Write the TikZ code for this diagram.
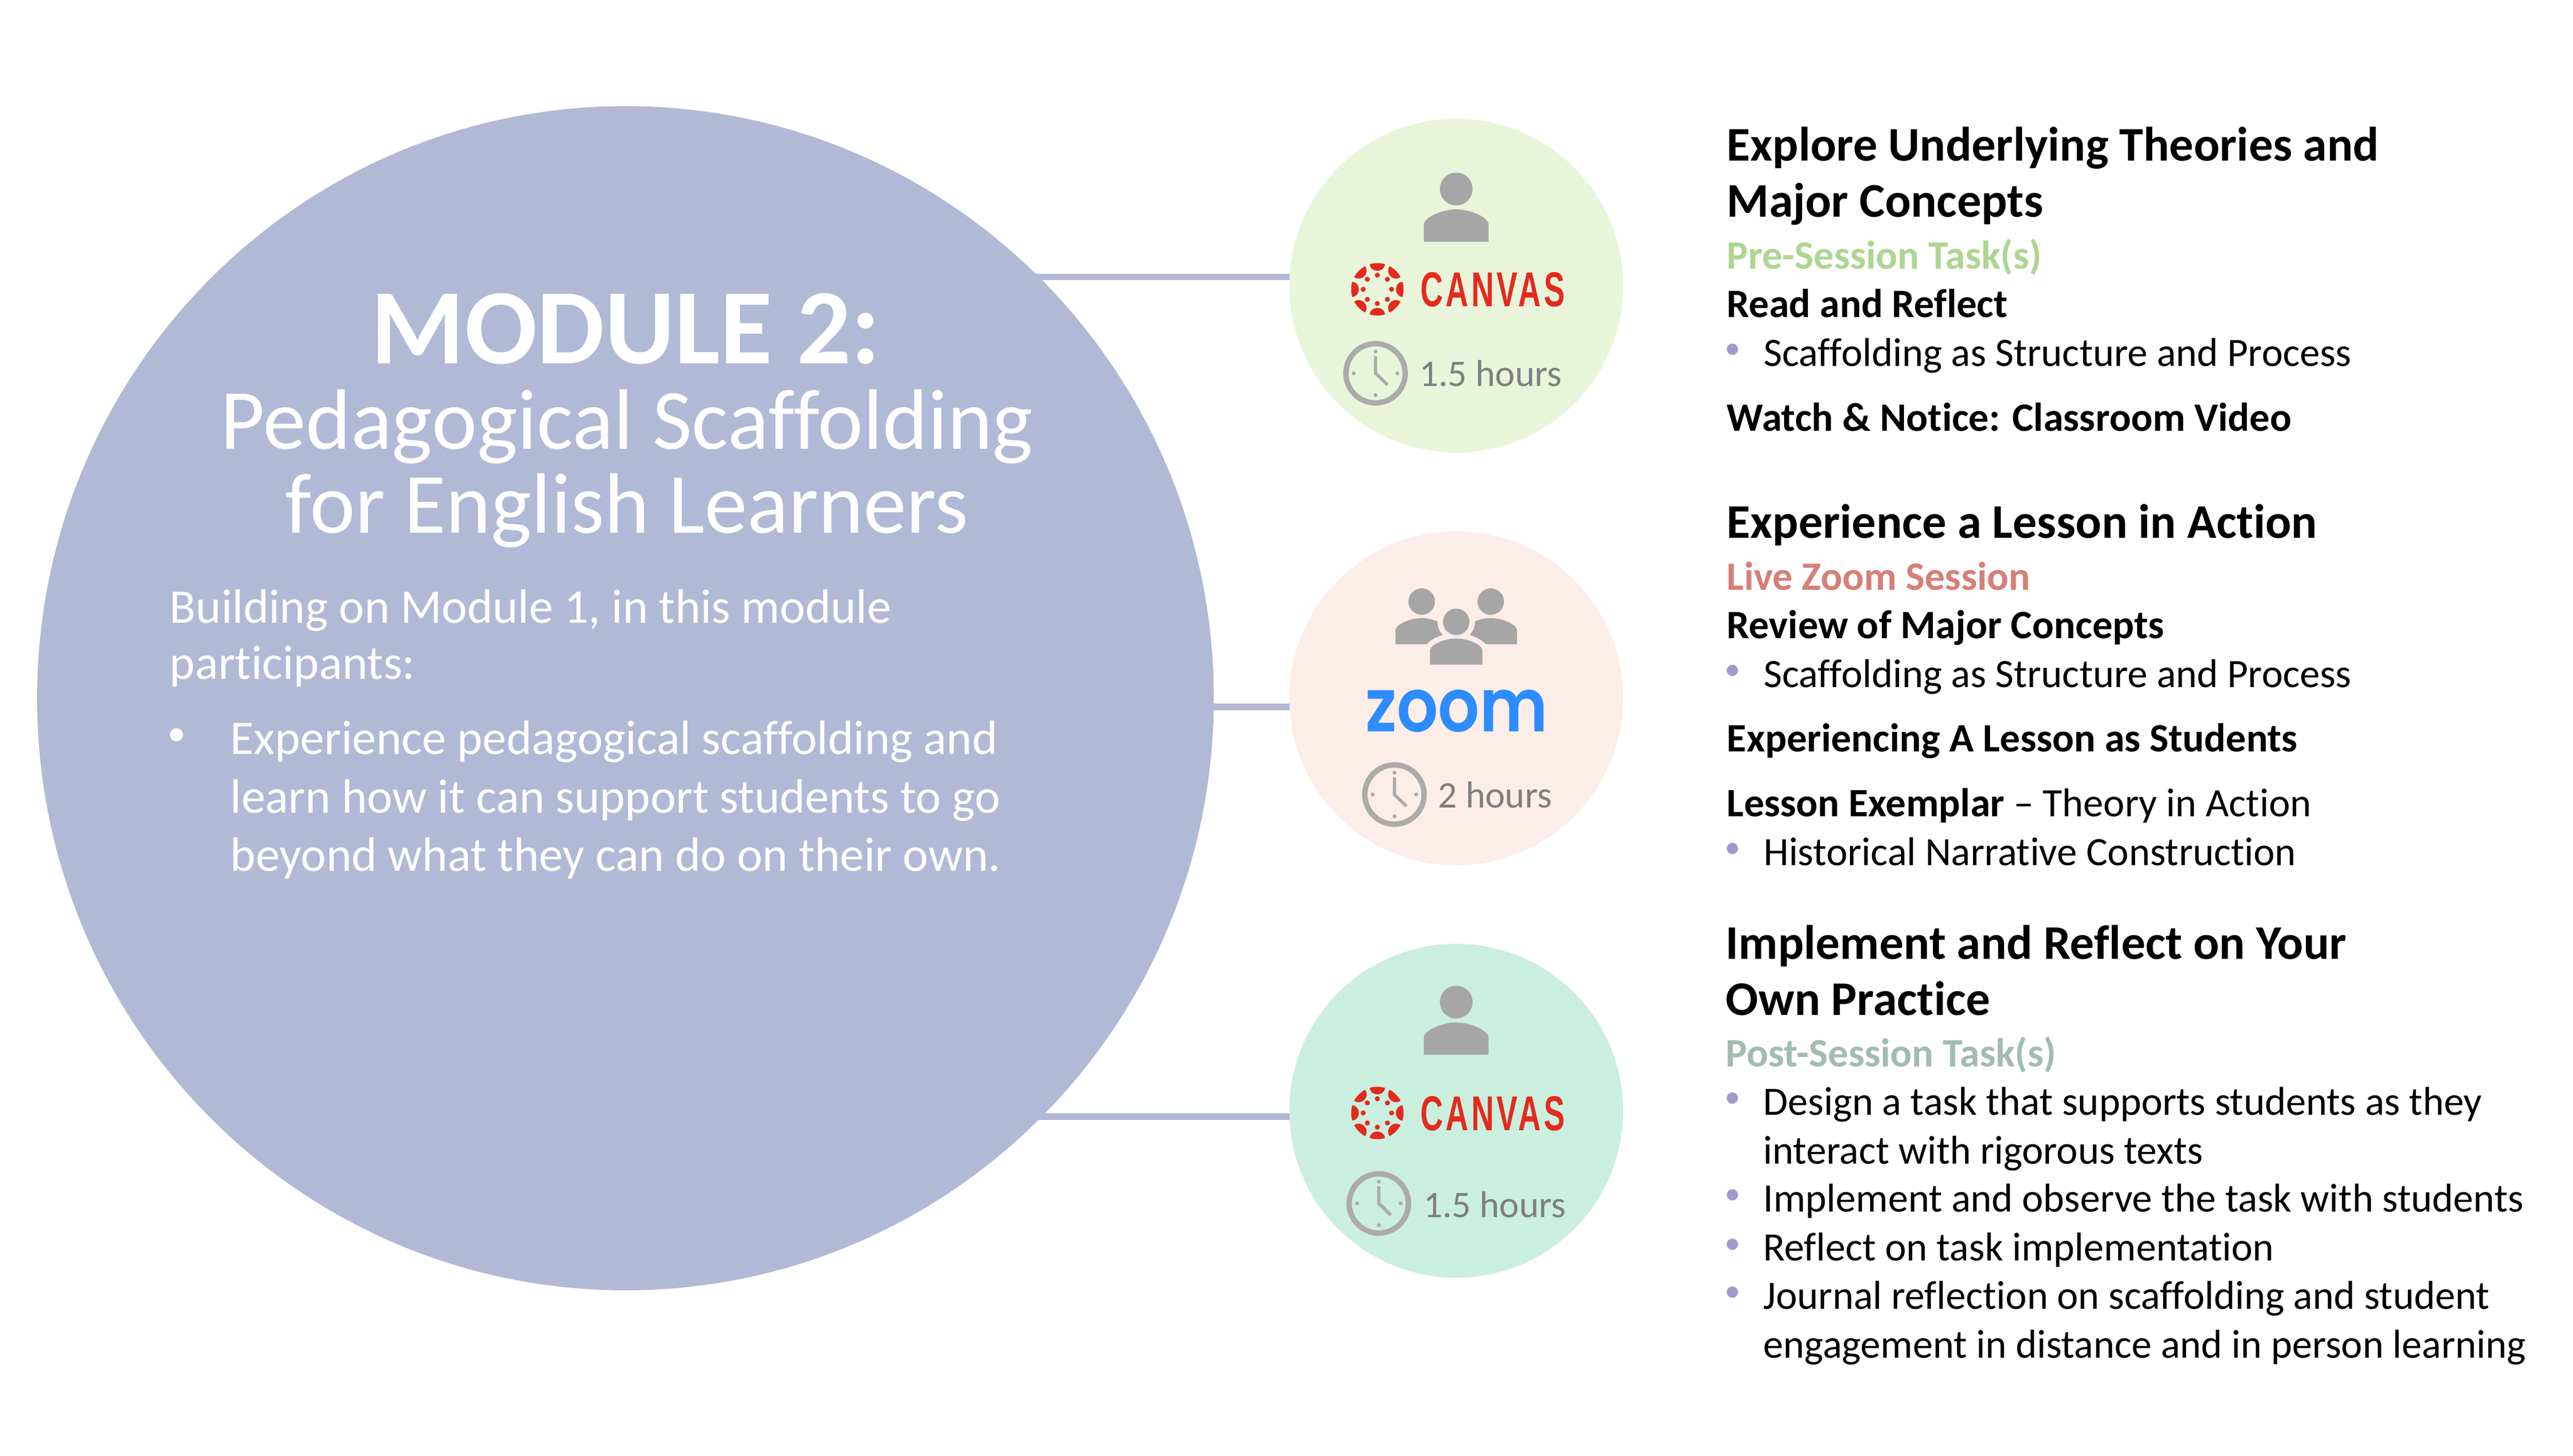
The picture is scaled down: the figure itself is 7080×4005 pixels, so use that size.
\documentclass[tikz,border=0pt]{standalone}
\usepackage{fontspec}
\usepackage{tikz}
\usetikzlibrary{shapes.geometric}
\setmainfont{Carlito}[Ligatures=NoCommon]
\newfontfamily\canvasfont{Liberation Sans}[LetterSpace=9]
\newfontfamily\zoomfont{Poppins SemiBold}

\definecolor{moduleBlue}{HTML}{B0B9D6}
\definecolor{preBg}{HTML}{E9F5DA}
\definecolor{liveBg}{HTML}{FDEDE9}
\definecolor{postBg}{HTML}{CAEFDF}
\definecolor{canvasRed}{HTML}{E42A1D}
\definecolor{zoomBlue}{HTML}{2D8CFF}
\definecolor{personGray}{HTML}{A6A6A6}
\definecolor{clockGray}{HTML}{AEAAAA}
\definecolor{hoursGray}{HTML}{7F7F7F}
\definecolor{preGreen}{HTML}{AED591}
\definecolor{liveRed}{HTML}{D67F78}
\definecolor{postGreen}{HTML}{A2BCAF}
\definecolor{bulletPurple}{HTML}{9E9ACD}

\tikzset{
  txt/.style={anchor=base west, inner sep=0pt, outer sep=0pt},
  session/.style={shape=circle, inner sep=0pt, outer sep=0pt, minimum size=9.18cm},
  link/.style={draw=moduleBlue, line width=.175cm},
  heading/.style={txt, font=\fontsize{37.8}{45}\bfseries},
  strong/.style={txt, font=\fontsize{31.5}{38}\bfseries},
  plain/.style={txt, font=\fontsize{31.5}{38}\selectfont},
  dot/.style={anchor=base, inner sep=0pt, outer sep=0pt, yshift=.21cm, text=bulletPurple, font=\fontsize{25}{30}\selectfont},
  hours/.style={txt, text=hoursGray, font=\fontsize{29.4}{35}\selectfont},
  intro/.style={txt, text=white, font=\fontsize{37.8}{45}\selectfont},
  person/.pic={
    \path[fill=personGray, pic actions] (0,0) circle (45);
    \path[fill=personGray, pic actions] (-89,145) -- (-89,96) .. controls (-85,75) and (-35,56) .. (0,56) .. controls (35,56) and (85,75) .. (89,96) -- (89,145) -- cycle;
  },
  petal/.pic={
    \fill[canvasRed] (-21,-69) .. controls (-10,-73) and (10,-73) .. (21,-69) .. controls (19,-45) and (-19,-45) .. (-21,-69) -- cycle;
  },
  canvaslogo/.pic={
    \pic {petal};
    \pic[rotate=45] {petal};
    \pic[rotate=90] {petal};
    \pic[rotate=135] {petal};
    \pic[rotate=180] {petal};
    \pic[rotate=225] {petal};
    \pic[rotate=270] {petal};
    \pic[rotate=315] {petal};
    \fill[canvasRed] (0:39) circle (7);
    \fill[canvasRed] (45:39) circle (7);
    \fill[canvasRed] (90:39) circle (7);
    \fill[canvasRed] (135:39) circle (7);
    \fill[canvasRed] (180:39) circle (7);
    \fill[canvasRed] (225:39) circle (7);
    \fill[canvasRed] (270:39) circle (7);
    \fill[canvasRed] (315:39) circle (7);
  },
  clockface/.pic={
    \draw[clockGray, line width=.15cm] (0,0) circle (81.5);
    \draw[clockGray, line width=.09cm] (0,-47) -- (0,0) -- (33,32);
    \fill[clockGray] (0,-60) circle (5.5);
    \fill[clockGray] (60,0) circle (5.5);
    \fill[clockGray] (0,60) circle (5.5);
    \fill[clockGray] (-60,0) circle (5.5);
  },
}

\begin{document}
\begin{tikzpicture}[x=0.01cm, y=-0.01cm]
\useasboundingbox (0,0) rectangle (7080,4005);

% circles
\node[shape=ellipse, fill=moduleBlue, inner sep=0pt, outer sep=0pt, minimum width=32.36cm, minimum height=32.56cm](module) at (1721,1921) {};
\node[session, fill=preBg](pre) at (4007,786) {};
\node[session, fill=liveBg](live) at (4007,1921) {};
\node[session, fill=postBg](post) at (4007,3056) {};

\draw[link] (module.center |- pre.177.32) -- (pre.177.32);
\draw[link] (module.center |- live.183.12) -- (live.183.12);
\draw[link] (module.center |- post.182.25) -- (post.182.25);

% module text
\node[anchor=base, inner sep=0pt, text=white, font=\fontsize{83.9}{100}\bfseries](title) at (1722,1001) {MODULE 2:};
\node[anchor=base, inner sep=0pt, text=white, font=\fontsize{67.1}{80}\selectfont](name1) at (1725,1236) {Pedagogical Scaffolding};
\node[anchor=base, inner sep=0pt, text=white, font=\fontsize{67.1}{80}\selectfont](name2) at (1725,1466) {for English Learners};
\node[intro](intro1) at (467,1714) {Building on Module 1, in this module};
\node[intro](intro2) at (467,1868) {participants:};
\node[anchor=base, inner sep=0pt, outer sep=0pt, yshift=.235cm, text=white, font=\fontsize{29}{35}\selectfont](introdot) at (487,2075) {•};
\node[intro](intro3) at (634,2075) {Experience pedagogical scaffolding and};
\node[intro](intro4) at (634,2236) {learn how it can support students to go};
\node[intro](intro5) at (634,2397) {beyond what they can do on their own.};

% pre-session icons
\pic at (4007,520) {person};
\pic at (3790,796) {canvaslogo};
\node[inner sep=0pt, anchor=south west, text=canvasRed](canvas1) at (3908,845) {\resizebox{3.97cm}{.94cm}{\canvasfont\bfseries CANVAS}};
\pic at (3785,1027) {clockface};
\node[hours](hours1) at (3906,1063) {1.5 hours};

% live session icons
\pic[scale=.81] at (3912,1655) {person};
\pic[scale=.81] at (4102,1655) {person};
\pic[scale=.81, fill=liveBg, draw=liveBg, line width=.3cm] at (4007,1711) {person};
\pic[scale=.81] at (4007,1711) {person};
\node[inner sep=0pt, anchor=south west, text=zoomBlue](zoom) at (3756,2016) {\resizebox{5.02cm}{1.15cm}{\zoomfont zoom}};
\pic at (3837,2186) {clockface};
\node[hours](hours2) at (3957,2222) {2 hours};

% post-session icons
\pic at (4007,2757) {person};
\pic at (3790,3062) {canvaslogo};
\node[inner sep=0pt, anchor=south west, text=canvasRed](canvas2) at (3908,3112) {\resizebox{3.97cm}{.94cm}{\canvasfont\bfseries CANVAS}};
\pic at (3794,3311) {clockface};
\node[hours](hours3) at (3917,3349) {1.5 hours};

% right column, top
\node[heading](explore1) at (4752,442) {Explore Underlying Theories and};
\node[heading](explore2) at (4752,597) {Major Concepts};
\node[strong, text=preGreen](pretask) at (4752,740) {Pre-Session Task(s)};
\node[strong](read) at (4752,873) {Read and Reflect};
\node[dot](dot1) at (4768,1007) {•};
\node[plain](scaf1) at (4853,1007) {Scaffolding as Structure and Process};
\node[strong](watch) at (4752,1186) {Watch \& Notice: Classroom Video};

% right column, middle
\node[heading](lesson) at (4752,1481) {Experience a Lesson in Action};
\node[strong, text=liveRed](livetask) at (4752,1624) {Live Zoom Session};
\node[strong](review) at (4752,1756) {Review of Major Concepts};
\node[dot](dot2) at (4768,1891) {•};
\node[plain](scaf2) at (4853,1891) {Scaffolding as Structure and Process};
\node[strong](students) at (4752,2068) {Experiencing A Lesson as Students};
\node[plain](exemplar) at (4752,2246) {\textbf{Lesson Exemplar} – Theory in Action};
\node[dot](dot3) at (4768,2381) {•};
\node[plain](narrative) at (4853,2381) {Historical Narrative Construction};

% right column, bottom
\node[heading](implement1) at (4749,2638) {Implement and Reflect on Your};
\node[heading](implement2) at (4749,2793) {Own Practice};
\node[strong, text=postGreen](posttask) at (4749,2934) {Post-Session Task(s)};
\node[dot](dot4) at (4768,3068) {•};
\node[plain](design1) at (4852,3068) {Design a task that supports students as they};
\node[plain](design2) at (4852,3202) {interact with rigorous texts};
\node[dot](dot5) at (4768,3334) {•};
\node[plain](observe) at (4852,3334) {Implement and observe the task with students};
\node[dot](dot6) at (4768,3469) {•};
\node[plain](reflect) at (4852,3469) {Reflect on task implementation};
\node[dot](dot7) at (4768,3601) {•};
\node[plain](journal1) at (4852,3601) {Journal reflection on scaffolding and student};
\node[plain](journal2) at (4852,3736) {engagement in distance and in person learning};
\end{tikzpicture}
\end{document}
